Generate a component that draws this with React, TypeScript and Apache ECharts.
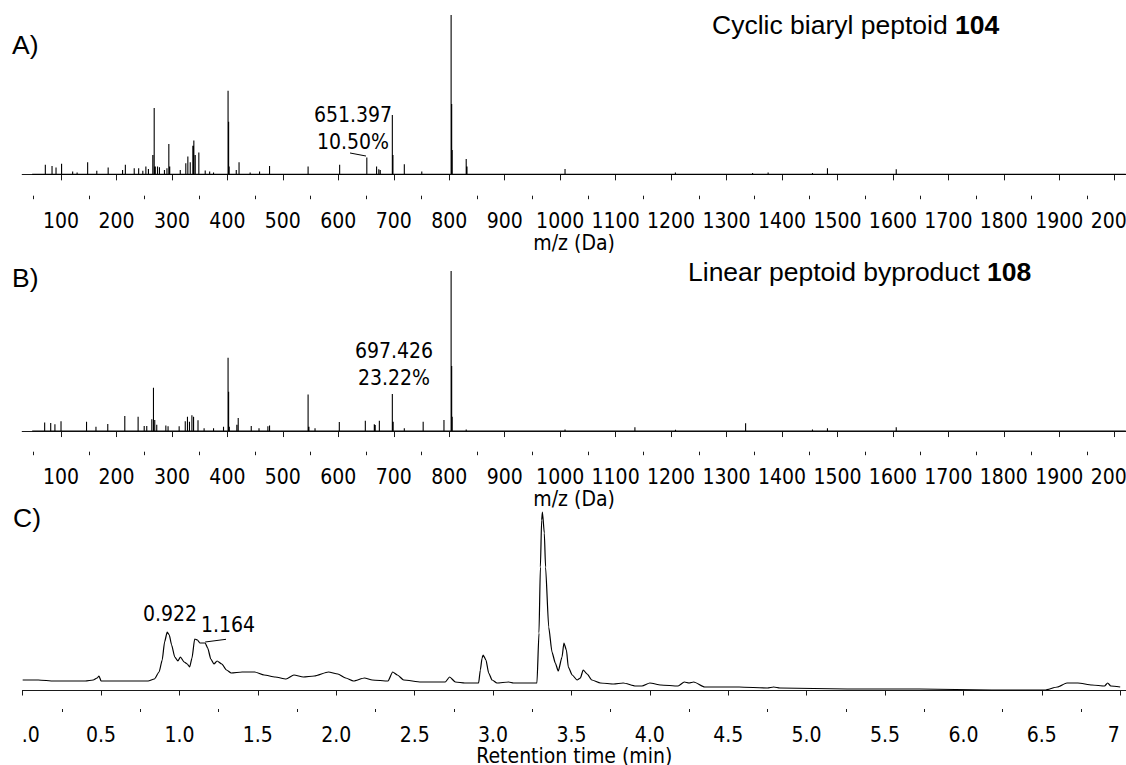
import React, { useEffect, useRef } from 'react';
import * as echarts from 'echarts';

const FONT = '"DejaVu Sans Condensed", "Noto Sans", "DejaVu Sans", sans-serif';
const TITLE_FONT = '"Liberation Sans", Arial, sans-serif';

// ---------- Panel A: cyclic biaryl peptoid 104 (m/z, relative %) ----------
const specAMz = [71.7, 83.8, 91, 101, 121, 129, 148, 164.5, 185, 211, 216, 232, 240, 247.5, 253, 257.6, 265.5, 268, 270, 274, 277.5, 286.5, 291, 294.4, 296, 315, 325, 328.7, 333, 337.7, 339.5, 342, 348.5, 360, 368, 375, 401.2, 402.2, 403.2, 416, 421, 441, 458, 476, 545.5, 602.4, 651.4, 669, 673, 675.6, 697.4, 698.5, 719, 750.5, 803.4, 804.4, 805.4, 830.6, 832, 1008.8, 1207.8, 1347, 1375, 1455, 1482, 1606];
const specAInt = [6.0, 5.3, 4.3, 6.6, 1.8, 1.1, 7.6, 2.2, 4.3, 2.8, 6.1, 3.9, 3.9, 2.2, 4.9, 3.4, 12.2, 41.7, 4.9, 4.9, 4.4, 2.8, 3.9, 19.1, 5.0, 2.8, 7.0, 11.2, 7.6, 17.9, 21.2, 12.2, 13.7, 2.4, 1.8, 1.2, 52.5, 33.0, 5.0, 2.8, 7.6, 1.2, 1.8, 5.3, 4.9, 6.0, 10.5, 4.9, 3.2, 2.8, 37.3, 12.2, 6.4, 1.8, 100, 44.2, 15.3, 9.7, 4.9, 3.4, 1.2, 0.8, 1.2, 0.8, 3.9, 3.2];

// ---------- Panel B: linear peptoid byproduct 108 ----------
const specBMz = [70.5, 81.4, 89, 100, 146, 163, 184.3, 215, 239, 250, 254.6, 263.7, 266.7, 269, 272.6, 289, 293, 313, 324, 328, 331.6, 336, 339, 347, 358, 375, 393, 401.2, 402.2, 403.5, 417, 419.5, 443, 457, 473, 476, 545.5, 547, 558, 601.8, 648.7, 664.9, 666.5, 674, 697.4, 698.9, 719, 753, 790.5, 803.4, 804.4, 805.4, 830.6, 1008.8, 1134.8, 1208, 1334.4, 1455, 1482, 1606];
const specBInt = [5.4, 5.0, 4.2, 6.2, 5.8, 2.7, 4.4, 9.4, 8.9, 3.1, 3.1, 7.3, 27.0, 6.9, 4.0, 3.5, 3.0, 3.0, 6.2, 9.0, 5.8, 9.8, 8.9, 6.7, 1.7, 1.7, 2.7, 45.8, 24.6, 2.7, 4.0, 8.1, 3.1, 1.7, 3.0, 3.5, 22.9, 2.7, 1.7, 5.6, 6.5, 4.2, 3.8, 6.5, 23.22, 5.8, 1.7, 5.8, 6.9, 100, 40.6, 8.9, 1.0, 1.0, 2.3, 0.8, 4.8, 1.0, 1.7, 2.3];

const mzBaselineStart = 48;
const mzBaselineEnd = 2020;

// ---------- Panel C: chromatogram (min, signal) ----------
const chromTime = [0.00, 0.10, 0.20, 0.30, 0.40, 0.45, 0.475, 0.487, 0.50, 0.60, 0.70, 0.80, 0.84, 0.87, 0.89, 0.905, 0.922, 0.935, 0.95, 0.97, 0.99, 1.006, 1.03, 1.05, 1.065, 1.08, 1.097, 1.115, 1.13, 1.164, 1.18, 1.20, 1.22, 1.24, 1.27, 1.30, 1.33, 1.40, 1.48, 1.54, 1.61, 1.68, 1.73, 1.79, 1.86, 1.95, 2.01, 2.06, 2.11, 2.18, 2.23, 2.33, 2.36, 2.39, 2.43, 2.54, 2.66, 2.695, 2.723, 2.76, 2.82, 2.90, 2.908, 2.919, 2.93, 2.937, 2.955, 2.972, 2.994, 3.025, 3.10, 3.13, 3.217, 3.26, 3.28, 3.293, 3.302, 3.31, 3.315, 3.327, 3.335, 3.355, 3.376, 3.397, 3.416, 3.44, 3.452, 3.468, 3.48, 3.505, 3.536, 3.557, 3.575, 3.60, 3.63, 3.685, 3.77, 3.83, 3.91, 3.95, 4.00, 4.07, 4.18, 4.22, 4.25, 4.28, 4.35, 4.57, 4.75, 4.79, 4.83, 5.26, 5.72, 6.18, 6.52, 6.60, 6.66, 6.73, 6.82, 6.90, 6.92, 6.94, 7.00];
const chromSignal = [10, 10, 9, 9, 9, 10, 12, 14, 9, 9, 9, 9, 11, 18, 30, 48, 58, 55, 45, 33, 29, 33, 28, 26, 23, 32, 51, 50, 47, 47, 42, 31, 26, 29, 26, 20, 17, 18, 18, 15, 13, 11, 15, 13, 14, 18, 16, 12, 9, 12, 10, 9, 18, 15, 10, 8, 8, 8, 13, 8, 7, 7, 7, 20, 32, 35, 30, 17, 10, 7, 8, 7, 7, 7, 7, 57, 123, 170, 178, 157, 123, 63, 38, 27, 19, 33, 47, 40, 23, 15, 10, 12, 20, 16, 10, 7, 6, 7, 4, 4, 7, 5, 4, 8, 7, 8, 3, 3, 2, 3, 2, 1, 1, 0, 0, 3, 7, 7, 5, 4, 7, 4, 3];

// ---------- axis ticks / labels ----------
const mzTickLabels = [100, 200, 300, 400, 500, 600, 700, 800, 900, 1000, 1100, 1200, 1300, 1400, 1500, 1600, 1700, 1800, 1900, 2000];
const mzMinorTicks = [50, 150, 250, 350, 450, 550, 650, 750, 850, 950, 1050, 1150, 1250, 1350, 1450, 1550, 1650, 1750, 1850, 1950];
const timeTickLabels = [0, 0.5, 1.0, 1.5, 2.0, 2.5, 3.0, 3.5, 4.0, 4.5, 5.0, 5.5, 6.0, 6.5, 7.0];
const timeMinorTicks = [0.25, 0.75, 1.25, 1.75, 2.25, 2.75, 3.25, 3.75, 4.25, 4.75, 5.25, 5.75, 6.25, 6.75];

// ---------- annotations ----------
const peakLabelA = { mz: 651.397, pct: 10.5, leaderFrom: [621.1, 13.4], leaderTo: [649.9, 11.5] };
const peakLabelB = { mz: 697.426, pct: 23.22 };
const rtLabel1 = { t: 0.922, signal: 58 };
const rtLabel2 = { t: 1.164, signal: 48, leaderTo: [1.297, 50.7] };

const titleA = 'Cyclic biaryl peptoid ';
const titleABold = '104';
const titleB = 'Linear peptoid byproduct ';
const titleBBold = '108';

function sticks(mz: number[], inten: number[]) {
  const pts: number[][] = [[mzBaselineStart, 0]];
  mz.forEach((m, i) => {
    pts.push([m, 0], [m, inten[i]], [m, 0]);
  });
  pts.push([mzBaselineEnd, 0]);
  return pts;
}

const AXIS_COLOR = '#1a1a1a';
const labelStyle = { fontFamily: FONT, fontSize: 21, color: '#000' };

function mzAxes(gridIndex: number) {
  return [
    {
      type: 'value', gridIndex, min: 30, max: 2020.3, position: 'bottom',
      axisLine: { show: true, lineStyle: { color: AXIS_COLOR, width: 1 } },
      axisTick: { show: true, customValues: mzTickLabels, length: 6, lineStyle: { color: AXIS_COLOR, width: 1 } },
      axisLabel: { show: true, customValues: mzTickLabels, margin: 15, ...labelStyle, formatter: (v: number) => String(v) },
      splitLine: { show: false },
      name: 'm/z (Da)', nameLocation: 'middle', nameGap: 34.5,
      nameTextStyle: { ...labelStyle },
    },
    {
      type: 'value', gridIndex, min: 30, max: 2020.3, position: 'bottom',
      axisLine: { show: false },
      axisTick: { show: true, customValues: mzMinorTicks, length: 3.5, lineStyle: { color: AXIS_COLOR, width: 1 } },
      axisLabel: { show: false },
      splitLine: { show: false },
    },
  ];
}

export default function App() {
  const ref = useRef<HTMLDivElement>(null);

  useEffect(() => {
    if (!ref.current) return;
    const chart = echarts.init(ref.current, null, { renderer: 'svg' });

    const timeMax = 7.037;
    const option: any = {
      animation: false,
      backgroundColor: '#fff',
      grid: [
        { left: 22.2, right: 0, top: 15, height: 180.7, outerBoundsMode: 'none', containLabel: false },
        { left: 22.2, right: 0, top: 271, height: 180.7, outerBoundsMode: 'none', containLabel: false },
        { left: 22.67, right: 0, top: 510, height: 199, outerBoundsMode: 'none', containLabel: false },
      ],
      xAxis: [
        ...mzAxes(0),
        ...mzAxes(1),
        {
          type: 'value', gridIndex: 2, min: 0, max: timeMax, position: 'bottom',
          axisLine: { show: true, lineStyle: { color: AXIS_COLOR, width: 1 } },
          axisTick: { show: true, customValues: timeTickLabels, length: 5.5, lineStyle: { color: AXIS_COLOR, width: 1 } },
          axisLabel: {
            show: true, customValues: timeTickLabels, margin: 15, ...labelStyle,
            formatter: (v: number) => (v === 0 ? '{l|.0}' : v === 7 ? '{r|7}' : v.toFixed(1)),
            rich: {
              l: { ...labelStyle, padding: [0, 0, 0, 16] },
              r: { ...labelStyle, padding: [0, 13, 0, 0] },
            },
          },
          splitLine: { show: false },
          name: 'Retention time (min)', nameLocation: 'middle', nameGap: 33,
          nameTextStyle: { ...labelStyle, lineHeight: 20 },
        },
        {
          type: 'value', gridIndex: 2, min: 0, max: timeMax, position: 'bottom',
          axisLine: { show: false },
          axisTick: { show: true, customValues: timeMinorTicks, length: 3, lineStyle: { color: AXIS_COLOR, width: 1 } },
          axisLabel: { show: false },
          splitLine: { show: false },
        },
      ],
      yAxis: [
        { type: 'value', gridIndex: 0, min: -13.4, max: 100, show: false },
        { type: 'value', gridIndex: 1, min: -12.9, max: 100, show: false },
        { type: 'value', gridIndex: 2, min: -19, max: 180, show: false },
      ],
      series: [
        {
          type: 'line', xAxisIndex: 0, yAxisIndex: 0,
          data: sticks(specAMz, specAInt),
          showSymbol: false, symbol: 'none',
          lineStyle: { color: '#000', width: 1.1 },
          markPoint: {
            silent: true, symbol: 'circle', symbolSize: 0,
            label: {
              show: true, position: 'inside', offset: [-13.8, -29.2],
              formatter: `${peakLabelA.mz.toFixed(3)}\n${peakLabelA.pct.toFixed(2)}%`,
              ...labelStyle, lineHeight: 27.4, align: 'center', verticalAlign: 'middle',
            },
            data: [{ coord: [peakLabelA.mz, peakLabelA.pct] }],
          },
          markLine: {
            silent: true, symbol: ['none', 'none'],
            label: { show: false },
            lineStyle: { color: '#000', width: 1, type: 'solid' },
            data: [[{ coord: peakLabelA.leaderFrom }, { coord: peakLabelA.leaderTo }]],
          },
        },
        {
          type: 'line', xAxisIndex: 2, yAxisIndex: 1,
          data: sticks(specBMz, specBInt),
          showSymbol: false, symbol: 'none',
          lineStyle: { color: '#000', width: 1.1 },
          markPoint: {
            silent: true, symbol: 'circle', symbolSize: 0,
            label: {
              show: true, position: 'inside', offset: [1.7, -29.4],
              formatter: `${peakLabelB.mz.toFixed(3)}\n${peakLabelB.pct.toFixed(2)}%`,
              ...labelStyle, lineHeight: 27.4, align: 'center', verticalAlign: 'middle',
            },
            data: [{ coord: [peakLabelB.mz, peakLabelB.pct] }],
          },
        },
        {
          type: 'line', xAxisIndex: 4, yAxisIndex: 2,
          data: chromTime.map((t, i) => [t, chromSignal[i]]),
          showSymbol: false, symbol: 'none',
          smooth: 0.2, smoothMonotone: 'x',
          lineStyle: { color: '#000', width: 1.2 },
          markPoint: {
            silent: true, symbol: 'circle', symbolSize: 0,
            label: { show: true, position: 'inside', ...labelStyle, align: 'center', verticalAlign: 'middle' },
            data: [
              { coord: [rtLabel1.t, rtLabel1.signal], label: { formatter: rtLabel1.t.toFixed(3), offset: [2.8, -18] } },
              { coord: [rtLabel2.t, rtLabel2.signal], label: { formatter: rtLabel2.t.toFixed(3), offset: [22.8, -17.5] } },
            ],
          },
          markLine: {
            silent: true, symbol: ['none', 'none'],
            label: { show: false },
            lineStyle: { color: '#000', width: 1, type: 'solid' },
            data: [[{ coord: [rtLabel2.t, rtLabel2.signal] }, { coord: rtLabel2.leaderTo }]],
          },
        },
      ],
      graphic: [
        { type: 'text', x: 12, y: 45, style: { text: 'A)', fontFamily: TITLE_FONT, fontSize: 26.5, fill: '#000', verticalAlign: 'middle', align: 'left' } },
        { type: 'text', x: 12, y: 278, style: { text: 'B)', fontFamily: TITLE_FONT, fontSize: 26.5, fill: '#000', verticalAlign: 'middle', align: 'left' } },
        { type: 'text', x: 13, y: 518, style: { text: 'C)', fontFamily: TITLE_FONT, fontSize: 26.5, fill: '#000', verticalAlign: 'middle', align: 'left' } },
        {
          type: 'text', x: 712, y: 25,
          style: {
            text: `{n|${titleA}}{b|${titleABold}}`, verticalAlign: 'middle', align: 'left', fill: '#000',
            rich: {
              n: { fontFamily: TITLE_FONT, fontSize: 26.5, fill: '#000' },
              b: { fontFamily: TITLE_FONT, fontSize: 26.5, fontWeight: 'bold', fill: '#000' },
            },
          },
        },
        {
          type: 'text', x: 688, y: 271.5,
          style: {
            text: `{n|${titleB}}{b|${titleBBold}}`, verticalAlign: 'middle', align: 'left', fill: '#000',
            rich: {
              n: { fontFamily: TITLE_FONT, fontSize: 26.5, fill: '#000' },
              b: { fontFamily: TITLE_FONT, fontSize: 26.5, fontWeight: 'bold', fill: '#000' },
            },
          },
        },
      ],
    };

    chart.setOption(option);
    return () => chart.dispose();
  }, []);

  return (
    <div
      ref={ref}
      style={{ position: 'absolute', left: 0, top: 0, width: 1126, height: 765, background: '#fff' }}
    />
  );
}
